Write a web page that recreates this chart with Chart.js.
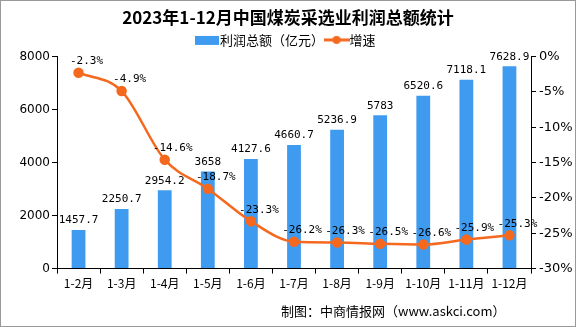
<!DOCTYPE html>
<html>
<head>
<meta charset="utf-8">
<script src="https://cdn.jsdelivr.net/npm/chart.js"></script>
<style>
  html, body { margin: 0; padding: 0; background: #fff; }
  #wrap { position: relative; width: 576px; height: 327px; box-sizing: border-box; border: 1px solid #999; }
  #note { position: absolute; left: 280px; top: 300px; font: 13px "Noto Sans CJK SC", sans-serif; color: #000; }
</style>
</head>
<body>
<div id="wrap">
  <canvas id="myChart" width="574" height="325"></canvas>
  <div id="note">制图：中商情报网（www.askci.com）</div>
</div>
<script>
// data
var months = ['1-2月', '1-3月', '1-4月', '1-5月', '1-6月', '1-7月', '1-8月', '1-9月', '1-10月', '1-11月', '1-12月'];
var profit = [1457.7, 2250.7, 2954.2, 3658, 4127.6, 4660.7, 5236.9, 5783, 6520.6, 7118.1, 7628.9];
var growth = [-2.3, -4.9, -14.6, -18.7, -23.3, -26.2, -26.3, -26.5, -26.6, -25.9, -25.3];

var barColor = '#3f9bf0';
var lineColor = '#f5691f';

function legendIcon(isLine) {
    var c = document.createElement('canvas');
    c.width = 26; c.height = 12;
    var g = c.getContext('2d');
    if (isLine) {
        g.strokeStyle = lineColor; g.lineWidth = 3;
        g.beginPath(); g.moveTo(0, 6); g.lineTo(26, 6); g.stroke();
        g.fillStyle = lineColor;
        g.beginPath(); g.arc(13, 6, 4, 0, Math.PI * 2); g.fill();
    } else {
        g.fillStyle = barColor;
        g.fillRect(1, 2, 24, 9);
    }
    return c;
}

// value labels above bars and points
var valueLabels = {
    id: 'valueLabels',
    afterDatasetsDraw: function(chart) {
        var ctx = chart.ctx;
        ctx.save();
        ctx.fillStyle = '#000';
        ctx.font = '11px "DejaVu Sans Mono", monospace';
        ctx.textAlign = 'center';
        ctx.textBaseline = 'bottom';
        chart.getDatasetMeta(0).data.forEach(function(bar, i) {
            ctx.fillText(String(profit[i]), bar.x, bar.y - 4);
        });
        chart.getDatasetMeta(1).data.forEach(function(pt, i) {
            ctx.fillText(growth[i] + '%', pt.x + 8, pt.y - 6);
        });
        ctx.restore();
    }
};

var ctx = document.getElementById('myChart').getContext('2d');
var chart = new Chart(ctx, {
    type: 'bar',
    data: {
        labels: months,
        datasets: [{
            type: 'bar',
            label: '利润总额（亿元）',
            data: profit,
            backgroundColor: barColor,
            yAxisID: 'y',
            barPercentage: 0.32,
            categoryPercentage: 1,
            order: 2
        }, {
            type: 'line',
            label: '增速',
            data: growth,
            borderColor: lineColor,
            backgroundColor: lineColor,
            borderWidth: 2.5,
            pointRadius: 4,
            pointBackgroundColor: lineColor,
            tension: 0.4,
            cubicInterpolationMode: 'monotone',
            yAxisID: 'y1',
            order: 1
        }]
    },
    options: {
        responsive: false,
        animation: false,
        layout: { padding: { left: 0, right: 0, top: 0, bottom: 32 } },
        plugins: {
            title: {
                display: true,
                text: '2023年1-12月中国煤炭采选业利润总额统计',
                color: '#000',
                font: { family: '"Noto Sans CJK SC", sans-serif', size: 17, weight: 'bold' },
                padding: { top: 6, bottom: 0 }
            },
            legend: {
                display: true,
                labels: {
                    usePointStyle: true,
                    color: '#000',
                    font: { family: '"Noto Sans CJK SC", sans-serif', size: 13 },
                    padding: 6,
                    generateLabels: function(chart) {
                        return chart.data.datasets.map(function(ds, i) {
                            return {
                                text: ds.label,
                                pointStyle: legendIcon(ds.type === 'line'),
                                fillStyle: ds.backgroundColor,
                                strokeStyle: ds.backgroundColor,
                                lineWidth: 0,
                                datasetIndex: i,
                                fontColor: '#000'
                            };
                        });
                    }
                }
            },
            tooltip: { enabled: false }
        },
        scales: {
            x: {
                offset: true,
                grid: { drawOnChartArea: false, offset: true, color: '#000', tickLength: 5 },
                border: { color: '#000' },
                ticks: { color: '#000', font: { family: '"Noto Sans CJK SC", sans-serif', size: 12 }, maxRotation: 0, autoSkip: false }
            },
            y: {
                position: 'left',
                min: 0, max: 8000,
                afterFit: function(s) { s.width = 56; },
                grid: { drawOnChartArea: false, color: '#000', tickLength: 5 },
                border: { color: '#000' },
                ticks: {
                    stepSize: 2000, color: '#000', padding: 2,
                    font: { family: '"DejaVu Sans", sans-serif', size: 12 },
                    callback: function(v) { return String(v); }
                }
            },
            y1: {
                position: 'right',
                min: -30, max: 0,
                afterFit: function(s) { s.width = 44; },
                grid: { drawOnChartArea: false, color: '#000', tickLength: 5 },
                border: { color: '#000' },
                ticks: {
                    stepSize: 5, color: '#000', padding: 3,
                    font: { family: '"DejaVu Sans", sans-serif', size: 13 },
                    callback: function(v) { return v + '%'; }
                }
            }
        }
    },
    plugins: [valueLabels]
});
</script>
</body>
</html>
